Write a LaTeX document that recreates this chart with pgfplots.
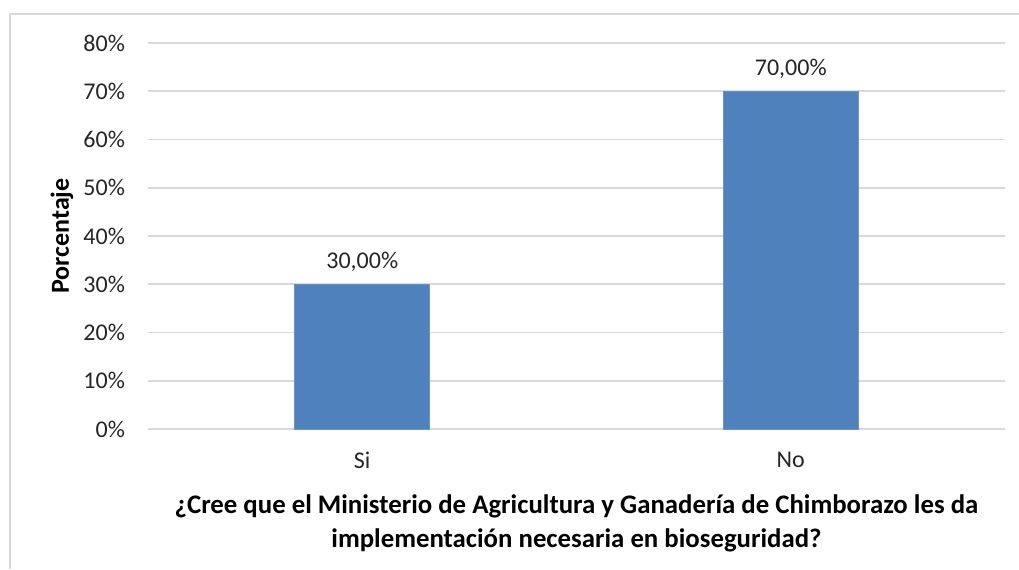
\documentclass[border=0pt]{standalone}
\usepackage{fontspec}
\setmainfont{Carlito}
\usepackage{pgfplots}
\pgfplotsset{compat=1.18}
\definecolor{barblue}{HTML}{4F81BD}
\definecolor{gridgray}{HTML}{D9D9D9}
\begin{document}
\begin{tikzpicture}
\useasboundingbox (0pt,0pt) rectangle (509.5pt,284.5pt);
\draw[gridgray, line width=0.8pt] (5pt,0pt) -- (5pt,277.5pt) -- (509.5pt,277.5pt);
\begin{axis}[
    at={(74pt,70pt)}, anchor=south west,
    scale only axis,
    width=428.5pt, height=193pt,
    ybar, bar width=67.5pt,
    xmin=-0.5, xmax=1.5,
    ymin=0, ymax=80,
    xtick={0,1}, xticklabels={Si,No},
    ytick={0,10,...,80},
    yticklabel={\pgfmathprintnumber{\tick}\%},
    /pgf/number format/assume math mode=true,
    ymajorgrids=true,
    grid style={gridgray, line width=0.8pt},
    axis line style={draw=none},
    major tick length=0pt,
    tick label style={font=\fontsize{12}{14}\selectfont, text=black!85},
    yticklabel style={xshift=-8pt},
    xticklabel style={yshift=-8pt},
    ylabel={Porcentaje},
    ylabel style={at={(axis description cs:-0.1004,0.5)}, anchor=center, font=\bfseries\fontsize{13}{15}\selectfont},
    xlabel={¿Cree que el Ministerio de Agricultura y Ganadería de Chimborazo les da\\implementación necesaria en bioseguridad?},
    xlabel style={align=center, font=\bfseries\fontsize{13.4}{17}\selectfont, yshift=-6pt},
    nodes near coords={\pgfmathprintnumber[fixed,zerofill,precision=2,use comma]{\pgfplotspointmeta}\%},
    nodes near coords style={font=\fontsize{12}{14}\selectfont, text=black!85, yshift=3pt},
]
\addplot[fill=barblue, draw=barblue!85!white] coordinates {(0,30) (1,70)};
\end{axis}
\end{tikzpicture}
\end{document}
